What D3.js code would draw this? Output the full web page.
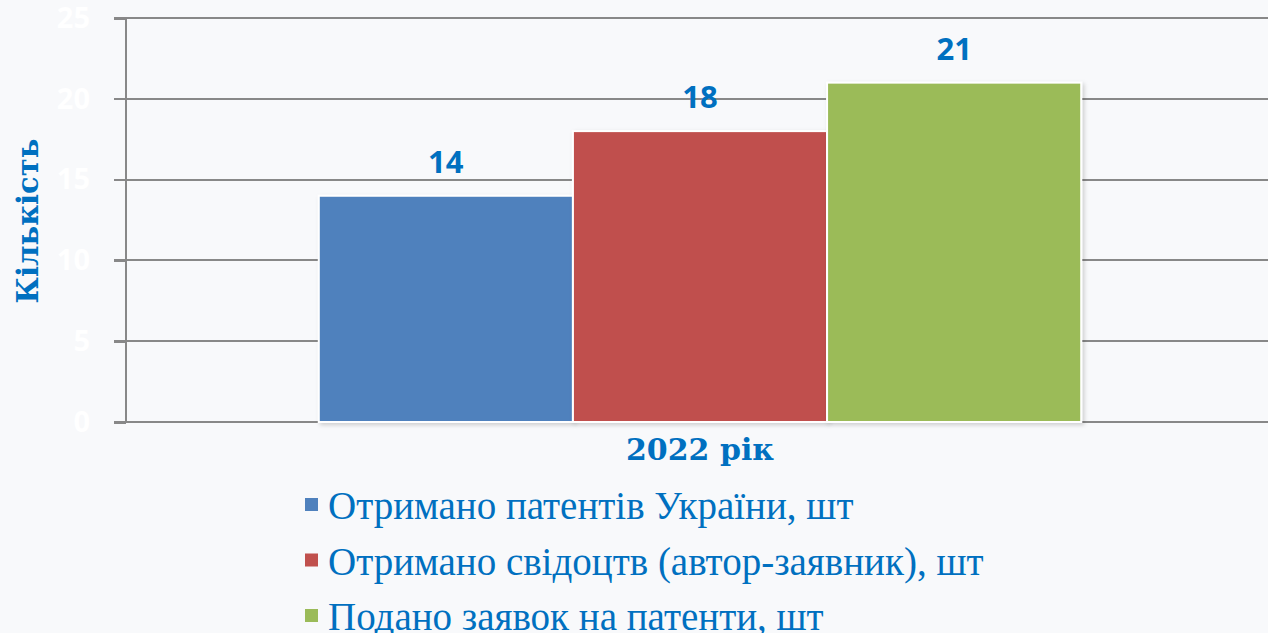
<!DOCTYPE html>
<html lang="uk">
<head>
<meta charset="utf-8">
<title>Кількість 2022</title>
<script src="https://cdn.jsdelivr.net/npm/d3@7"></script>
<style>
  body { margin: 0; background: #f8f9fb; }
  svg { display: block; }
  .axis path, .axis line { stroke: #888; stroke-width: 2; shape-rendering: crispEdges; }
  .axis text { fill: #fff; font-family: "Open Sans", sans-serif; font-weight: bold; font-size: 29px; }
</style>
</head>
<body>
<div id="chart"></div>
<script>
var categories = ["2022 рік"];
var series = ["Отримано патентів України, шт", "Отримано свідоцтв (автор-заявник), шт", "Подано заявок на патенти, шт"];
var values = [14, 18, 21];
var colors = ["#4f81bd", "#c0504d", "#9bbb59"];
var yTicks = [0, 5, 10, 15, 20, 25];

var W = 1268, H = 633;
var margin = {top: 18, right: 0, bottom: 211, left: 126};
var width = W - margin.left - margin.right,
    height = H - margin.top - margin.bottom;
var blue = "#0070c0";

var svg = d3.select("#chart").append("svg").attr("width", W).attr("height", H);

var defs = svg.append("defs");
var f = defs.append("filter").attr("id", "shadow").attr("x", "-5%").attr("y", "-5%").attr("width", "115%").attr("height", "115%");
f.append("feDropShadow").attr("dx", 2).attr("dy", 2).attr("stdDeviation", 2).attr("flood-color", "#000").attr("flood-opacity", 0.18);

var g = svg.append("g").attr("transform", "translate(" + margin.left + "," + margin.top + ")");

var y = d3.scaleLinear().domain([0, 25]).range([height, 0]);
var x0 = d3.scaleBand().domain(categories).range([6, width]).paddingInner(0).paddingOuter(0.245);
var x1 = d3.scaleBand().domain(series).range([0, x0.bandwidth()]);

// gridlines
g.append("g").selectAll("line").data(yTicks).enter().append("line")
  .attr("x1", -12).attr("x2", width)
  .attr("y1", function(d) { return y(d); }).attr("y2", function(d) { return y(d); })
  .attr("stroke", "#888").attr("stroke-width", 2).style("shape-rendering", "crispEdges");

var yAxis = g.append("g").attr("class", "axis")
  .call(d3.axisLeft(y).tickValues(yTicks).tickSize(12).tickPadding(24));
yAxis.select(".domain").attr("d", "M0," + y(0) + "V" + y(25));

// bars
var grp = g.selectAll(".grp").data(categories).enter().append("g")
  .attr("transform", function(d) { return "translate(" + x0(d) + ",0)"; });

grp.selectAll("rect").data(series.map(function(s, i) { return {s: s, v: values[i], c: colors[i]}; }))
  .enter().append("rect")
  .attr("x", function(d) { return x1(d.s); })
  .attr("y", function(d) { return y(d.v); })
  .attr("width", x1.bandwidth())
  .attr("height", function(d) { return height - y(d.v); })
  .attr("fill", function(d) { return d.c; })
  .attr("stroke", "#fff").attr("stroke-width", 2)
  .attr("filter", "url(#shadow)");

grp.selectAll(".val").data(series.map(function(s, i) { return {s: s, v: values[i]}; }))
  .enter().append("text")
  .attr("x", function(d) { return x1(d.s) + x1.bandwidth() / 2; })
  .attr("y", function(d) { return y(d.v) - 23; })
  .attr("text-anchor", "middle")
  .attr("fill", blue)
  .style("font-family", "'Open Sans', sans-serif").style("font-weight", "bold").style("font-size", "31px")
  .text(function(d) { return d.v; });

// category label
g.selectAll(".cat").data(categories).enter().append("text")
  .attr("x", function(d) { return x0(d) + x0.bandwidth() / 2; })
  .attr("y", height + 38)
  .attr("text-anchor", "middle")
  .attr("fill", blue)
  .style("font-family", "'DejaVu Serif', serif").style("font-weight", "bold").style("font-size", "30px")
  .text(function(d) { return d; });

// y title
svg.append("text")
  .attr("transform", "translate(38,221) rotate(-90)")
  .attr("text-anchor", "middle")
  .attr("fill", blue)
  .style("font-family", "'DejaVu Serif', serif").style("font-weight", "bold").style("font-size", "29px")
  .text("Кількість");

// legend
var leg = svg.append("g").selectAll("g").data(series).enter().append("g")
  .attr("transform", function(d, i) { return "translate(305," + (519 + i * 55.5) + ")"; });
leg.append("rect").attr("x", 0).attr("y", -21).attr("width", 13).attr("height", 13)
  .attr("fill", function(d, i) { return colors[i]; });
leg.append("text").attr("x", 23).attr("y", 0)
  .attr("fill", blue)
  .style("font-family", "'Liberation Serif', serif").style("font-size", "39px")
  .text(function(d) { return d; });
</script>
</body>
</html>
